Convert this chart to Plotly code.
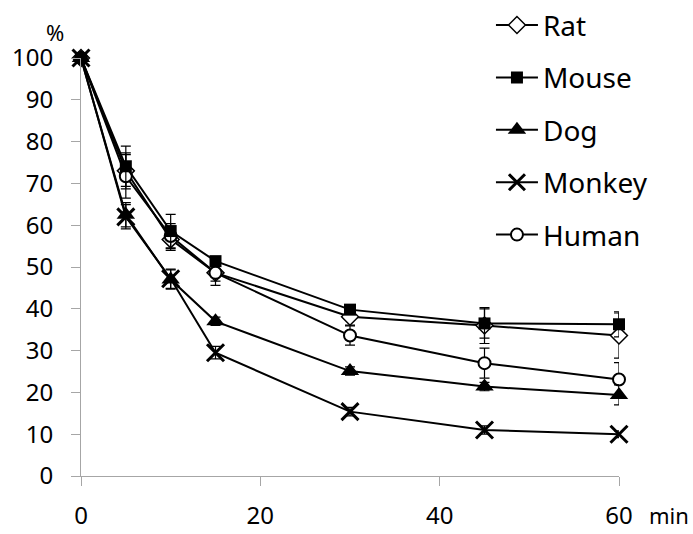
import plotly.graph_objects as go

times = [0, 5, 10, 15, 30, 45, 60]
species = ["Rat", "Mouse", "Dog", "Monkey", "Human"]
rat = [100, 73.0, 56.6, 48.6, 38.1, 36.0, 33.6]
rat_err = [0, 4.3, 2.6, 3.0, 2.0, 4.3, 5.4]
mouse = [100, 74.1, 58.6, 51.4, 39.8, 36.5, 36.3]
mouse_err = [0, 4.8, 4.0, 1.0, 1.0, 3.5, 3.0]
dog = [100, 62.5, 47.0, 37.0, 25.1, 21.4, 19.4]
dog_err = [0, 2.9, 2.3, 1.0, 1.0, 1.0, 2.4]
monkey = [100, 62.0, 47.2, 29.5, 15.4, 11.0, 10.0]
monkey_err = [0, 2.9, 2.3, 1.5, 1.0, 1.0, 0.8]
human = [100, 71.7, 57.4, 48.6, 33.6, 27.0, 23.1]
human_err = [0, 5.2, 3.0, 2.0, 2.3, 3.6, 4.0]

x_ticks = [0, 20, 40, 60]
y_ticks = list(range(0, 101, 10))

markers = {
    "Rat": dict(symbol="diamond", size=13, color="white", line=dict(color="black", width=1.5)),
    "Mouse": dict(symbol="square", size=12, color="black", line=dict(color="black", width=0)),
    "Dog": dict(symbol="triangle-up", size=16, color="black", line=dict(color="black", width=0)),
    "Monkey": dict(symbol="x-thin", size=17, color="black", line=dict(color="black", width=3)),
    "Human": dict(symbol="circle", size=12, color="white", line=dict(color="black", width=2)),
}
data = {
    "Rat": (rat, rat_err), "Mouse": (mouse, mouse_err), "Dog": (dog, dog_err),
    "Monkey": (monkey, monkey_err), "Human": (human, human_err),
}
draw_order = ["Rat", "Human", "Monkey", "Dog", "Mouse"]

fig = go.Figure()
for name in draw_order:
    vals, errs = data[name]
    fig.add_trace(go.Scatter(
        x=times, y=vals, name=name, mode="lines+markers",
        legendgroup=name, legendrank=species.index(name) + 1,
        line=dict(color="black", width=2),
        marker=markers[name],
        error_y=dict(type="data", array=errs, visible=True, color="black", thickness=1.2, width=5),
        cliponaxis=False,
    ))

font_family = "Noto Sans"
fig.update_layout(
    width=693, height=534,
    margin=dict(l=81, r=74, t=58, b=58, autoexpand=False),
    plot_bgcolor="white", paper_bgcolor="white",
    font=dict(family=font_family, size=24, color="black"),
    showlegend=True,
    legend=dict(
        x=0.762, y=1.138, xanchor="left", yanchor="top",
        font=dict(size=28, family=font_family),
        tracegroupgap=13, bgcolor="rgba(0,0,0,0)",
        itemwidth=42,
    ),
    xaxis=dict(
        range=[0, 60], tickvals=x_ticks, showgrid=False, zeroline=False,
        showline=True, linecolor="#a6a6a6", linewidth=1,
        ticks="outside", ticklen=9, tickcolor="#a6a6a6",
        tickfont=dict(size=24), ticklabelstandoff=9, automargin=False,
    ),
    yaxis=dict(
        range=[0, 100], tickvals=y_ticks, showgrid=False, zeroline=False,
        showline=True, linecolor="#a6a6a6", linewidth=1,
        ticks="outside", ticklen=9, tickcolor="#a6a6a6",
        tickfont=dict(size=24), ticklabelstandoff=13, automargin=False,
    ),
    annotations=[
        dict(text="%", x=-0.0477, y=1.0616, xref="paper", yref="paper",
             showarrow=False, xanchor="center", yanchor="middle", font=dict(size=22)),
        dict(text="min", x=1.1338, y=-0.094, xref="paper", yref="paper",
             showarrow=False, xanchor="right", yanchor="middle", font=dict(size=22)),
    ],
)

fig.write_html("out.html")
